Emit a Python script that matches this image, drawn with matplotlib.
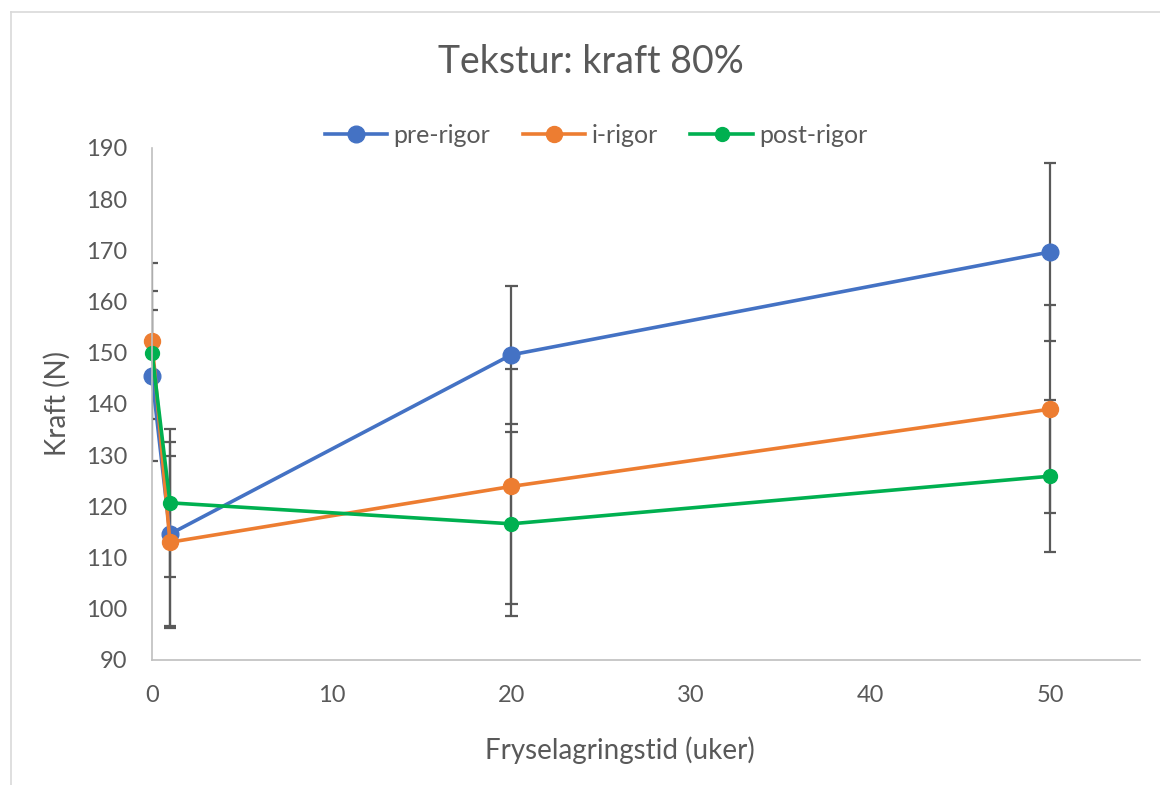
import matplotlib.pyplot as plt
from matplotlib.lines import Line2D

plt.rcParams['font.family'] = ['Lato', 'DejaVu Sans']

# fryselagringstid (uker)
weeks = [0, 1, 20, 50]

pre_rigor = [145.4, 114.6, 149.6, 169.7]
pre_err = [16.6, 17.9, 13.5, 17.3]

i_rigor = [152.3, 113.0, 123.9, 139.0]
i_err = [15.3, 16.8, 22.9, 20.3]

post_rigor = [150.0, 120.7, 116.6, 125.9]
post_err = [8.4, 14.5, 18.0, 14.9]

series = [
    ('pre-rigor', pre_rigor, pre_err, '#4472C4', 12),
    ('i-rigor', i_rigor, i_err, '#ED7D31', 11.5),
    ('post-rigor', post_rigor, post_err, '#00B050', 10),
]

text_col = '#595959'
cap_half = 0.35  # half cap width in weeks

fig = plt.figure(figsize=(11.6, 7.85), dpi=100)
ax = fig.add_axes([152 / 1160, 1 - 660 / 785, 988 / 1160, 512 / 785])

# error bars first (under the lines), clipped at the axes like Excel
for name, vals, err, col, ms in series:
    lo = [v - e for v, e in zip(vals, err)]
    hi = [v + e for v, e in zip(vals, err)]
    ax.vlines(weeks, lo, hi, color=text_col, linewidth=1.6, zorder=2)
    x0 = [w - cap_half for w in weeks]
    x1 = [w + cap_half for w in weeks]
    ax.hlines(lo, x0, x1, color=text_col, linewidth=1.6, zorder=2)
    ax.hlines(hi, x0, x1, color=text_col, linewidth=1.6, zorder=2)

handles = []
for name, vals, err, col, ms in series:
    ln, = ax.plot(weeks, vals, color=col, linewidth=2.6, marker='o',
                  markersize=ms, label=name, zorder=3, clip_on=False)
    handles.append(ln)

ax.set_xlim(0, 55)
ax.set_ylim(90, 190)
ax.set_xticks(range(0, 51, 10))
ax.set_yticks(range(90, 191, 10))
ax.tick_params(length=0, labelsize=17, colors=text_col)
ax.tick_params(axis='x', pad=18)
ax.tick_params(axis='y', pad=18)

for s in ['top', 'right']:
    ax.spines[s].set_visible(False)
for s in ['left', 'bottom']:
    ax.spines[s].set_color('#BFBFBF')
    ax.spines[s].set_linewidth(1.2)
    ax.spines[s].set_zorder(4)

ax.set_xlabel('Fryselagringstid (uker)', fontsize=20, color=text_col,
              labelpad=22, x=0.474)
ax.set_ylabel('Kraft (N)', fontsize=20, color=text_col)
ax.yaxis.set_label_coords(-0.082, 0.5)

fig.text(0.509, 0.921, 'Tekstur: kraft 80%', ha='center', va='center',
         fontsize=27, color=text_col)

leg = fig.legend(handles=handles, loc='center', bbox_to_anchor=(0.514, 0.828),
                 ncol=3, frameon=False, fontsize=18, handlelength=2.5,
                 columnspacing=1.3, handletextpad=0.25)
for t in leg.get_texts():
    t.set_color(text_col)

# chart area border
fig.add_artist(Line2D([11 / 1160, 11 / 1160], [0, 1 - 12 / 785],
                      color='#D9D9D9', linewidth=1.2))
fig.add_artist(Line2D([11 / 1160, 1], [1 - 12 / 785, 1 - 12 / 785],
                      color='#D9D9D9', linewidth=1.2))

fig.savefig('out.png', dpi=100)
